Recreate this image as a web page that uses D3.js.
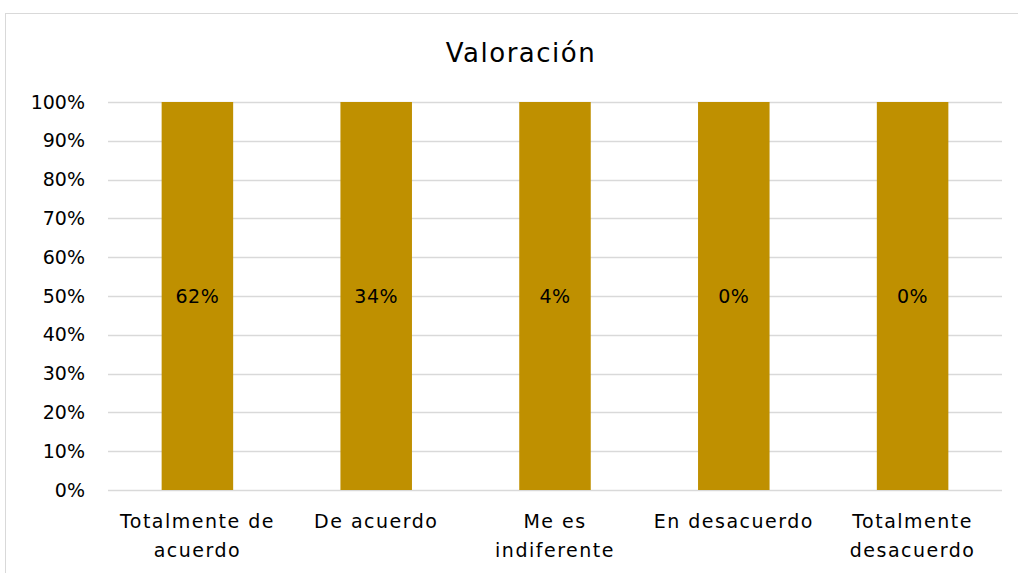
<!DOCTYPE html>
<html>
<head>
<meta charset="utf-8">
<script src="https://cdn.jsdelivr.net/npm/d3@7"></script>
<style>
  body { margin: 0; background: #fff; }
  svg { display: block; font-family: 'DejaVu Sans', sans-serif; }
</style>
</head>
<body>
<script>
const categories = [['Totalmente de', 'acuerdo'], ['De acuerdo'], ['Me es', 'indiferente'], ['En desacuerdo'], ['Totalmente', 'desacuerdo']];
const barValues = [1, 1, 1, 1, 1];          // each bar fills to 100%
const labelValues = [0.62, 0.34, 0.04, 0, 0];
const yTicks = [0, 0.1, 0.2, 0.3, 0.4, 0.5, 0.6, 0.7, 0.8, 0.9, 1];

const width = 1018;
const height = 573;
const margin = { top: 102, bottom: 83, right: 16, left: 108 };

const svg = d3.select('body')
    .append('svg')
    .attr('width', width)
    .attr('height', height);

// chart frame
svg.append('rect')
    .attr('x', 5.5)
    .attr('y', 13.5)
    .attr('width', width + 10)
    .attr('height', height + 10)
    .attr('fill', 'none')
    .attr('stroke', '#d9d9d9');

const x = d3.scaleBand()
    .domain(d3.range(categories.length))
    .range([margin.left, width - margin.right])
    .paddingInner(0.6)
    .paddingOuter(0.3);

const y = d3.scaleLinear()
    .domain([0, 1])
    .range([height - margin.bottom, margin.top]);

// gridlines
svg.append('g')
    .selectAll('line')
    .data(yTicks)
    .join('line')
    .attr('x1', margin.left)
    .attr('x2', width - margin.right)
    .attr('y1', d => Math.round(y(d)) + 0.5)
    .attr('y2', d => Math.round(y(d)) + 0.5)
    .attr('stroke', '#d9d9d9')
    .attr('stroke-width', 1.5);

// y axis labels
const yAxis = svg.append('g')
    .attr('transform', `translate(${margin.left}, 0)`)
    .call(d3.axisLeft(y).tickValues(yTicks).tickFormat(d3.format('.0%')).tickSize(0).tickPadding(23));
yAxis.select('.domain').remove();
yAxis.selectAll('text')
    .style('font-family', "'DejaVu Sans', sans-serif")
    .style('font-size', '19px')
    .attr('fill', '#000');

// bars
svg.selectAll('.bar')
    .data(barValues)
    .join('rect')
    .attr('class', 'bar')
    .attr('x', (d, i) => x(i))
    .attr('y', d => y(d))
    .attr('width', x.bandwidth())
    .attr('height', d => y(0) - y(d))
    .attr('fill', '#bf9000');

// data labels
svg.selectAll('.label')
    .data(labelValues)
    .join('text')
    .attr('class', 'label')
    .attr('x', (d, i) => x(i) + x.bandwidth() / 2)
    .attr('y', (d, i) => y(barValues[i] / 2))
    .attr('dy', '0.35em')
    .attr('text-anchor', 'middle')
    .style('font-size', '19px')
    .style('letter-spacing', '0.5px')
    .attr('fill', '#000')
    .text(d => d3.format('.0%')(d));

// category labels
const catLabels = svg.selectAll('.cat')
    .data(categories)
    .join('text')
    .attr('class', 'cat')
    .attr('text-anchor', 'middle')
    .style('font-size', '19px')
    .style('letter-spacing', '1.5px')
    .attr('fill', '#000');
catLabels.selectAll('tspan')
    .data((d, i) => d.map(t => ({ t, i })))
    .join('tspan')
    .attr('x', d => x(d.i) + x.bandwidth() / 2)
    .attr('y', (d, j) => 528 + j * 29)
    .text(d => d.t);

// title
svg.append('text')
    .attr('x', 521)
    .attr('y', 62)
    .attr('text-anchor', 'middle')
    .style('font-size', '26px')
    .style('letter-spacing', '1.5px')
    .attr('fill', '#000')
    .text('Valoración');
</script>
</body>
</html>
